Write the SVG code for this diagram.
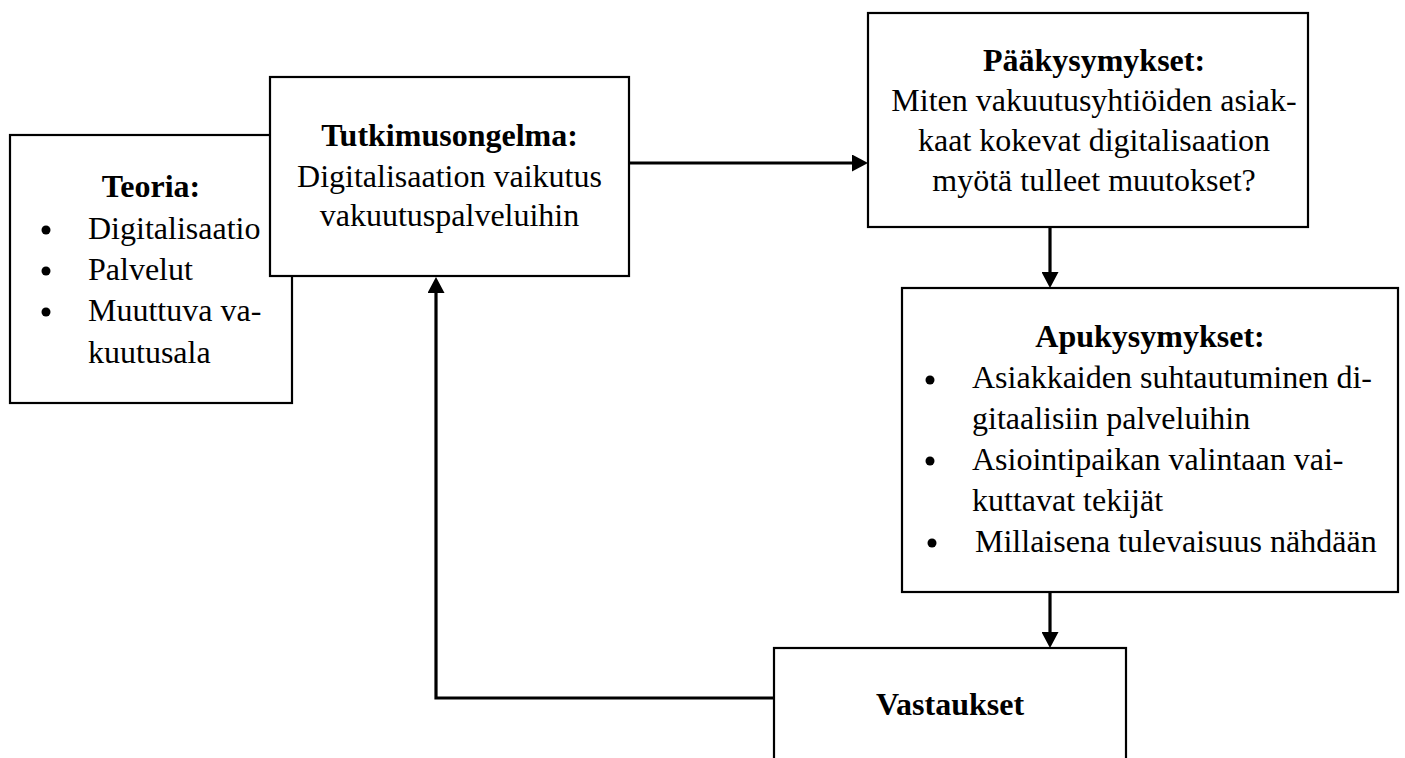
<svg xmlns="http://www.w3.org/2000/svg" width="1405" height="758" viewBox="0 0 1405 758">
<defs>
<marker id="ah" viewBox="0 0 16 17" refX="0" refY="8.5" markerWidth="16" markerHeight="17" markerUnits="userSpaceOnUse" orient="auto"><path d="M0,0 L16,8.5 L0,17 z" fill="#000"/></marker>
<style>
.box{fill:#fff;stroke:#000;stroke-width:2.2}
.t{font-family:"Liberation Serif","Times New Roman",serif;font-size:32px;fill:#000}
.b{font-weight:bold}
.c{text-anchor:middle}
.dot{fill:#000}
.con{fill:none;stroke:#000;stroke-width:3.2}
</style>
</defs>
<rect width="1405" height="758" fill="#fff"/>
<g id="teoria">
<rect class="box" x="10" y="135" width="282" height="268"/>
<text class="t b c" x="151" y="197">Teoria:</text>
<circle class="dot" cx="46" cy="230" r="4.5"/>
<text class="t" x="88" y="239">Digitalisaatio</text>
<circle class="dot" cx="46" cy="271" r="4.5"/>
<text class="t" x="88" y="280">Palvelut</text>
<circle class="dot" cx="46" cy="312" r="4.5"/>
<text class="t" x="88" y="321">Muuttuva va-</text>
<text class="t" x="88" y="363">kuutusala</text>
</g>
<g id="tutkimusongelma">
<rect class="box" x="270" y="77" width="359" height="199"/>
<text class="t b c" x="449.5" y="146">Tutkimusongelma:</text>
<text class="t c" x="449.5" y="187">Digitalisaation vaikutus</text>
<text class="t c" x="449.5" y="226">vakuutuspalveluihin</text>
</g>
<g id="paakysymykset">
<rect class="box" x="868" y="13" width="440" height="214"/>
<text class="t b c" x="1094" y="71">Pääkysymykset:</text>
<text class="t c" x="1094" y="111">Miten vakuutusyhtiöiden asiak-</text>
<text class="t c" x="1094" y="151">kaat kokevat digitalisaation</text>
<text class="t c" x="1094" y="191">myötä tulleet muutokset?</text>
</g>
<g id="apukysymykset">
<rect class="box" x="902" y="288" width="496" height="304"/>
<text class="t b c" x="1150" y="347">Apukysymykset:</text>
<circle class="dot" cx="930" cy="380" r="4.5"/>
<text class="t" x="972" y="388">Asiakkaiden suhtautuminen di-</text>
<text class="t" x="972" y="429">gitaalisiin palveluihin</text>
<circle class="dot" cx="930" cy="461" r="4.5"/>
<text class="t" x="972" y="470">Asiointipaikan valintaan vai-</text>
<text class="t" x="972" y="511">kuttavat tekijät</text>
<circle class="dot" cx="932" cy="543" r="4.5"/>
<text class="t" x="975" y="552">Millaisena tulevaisuus nähdään</text>
</g>
<g id="vastaukset">
<rect class="box" x="774" y="648" width="352" height="130"/>
<text class="t b c" x="950" y="715">Vastaukset</text>
</g>
<g id="connectors">
<path class="con" d="M629,163 H852" marker-end="url(#ah)"/>
<path class="con" d="M1050,227 V272" marker-end="url(#ah)"/>
<path class="con" d="M1050,592 V632" marker-end="url(#ah)"/>
<path class="con" d="M774,698 H436 V293" marker-end="url(#ah)"/>
</g>
</svg>
